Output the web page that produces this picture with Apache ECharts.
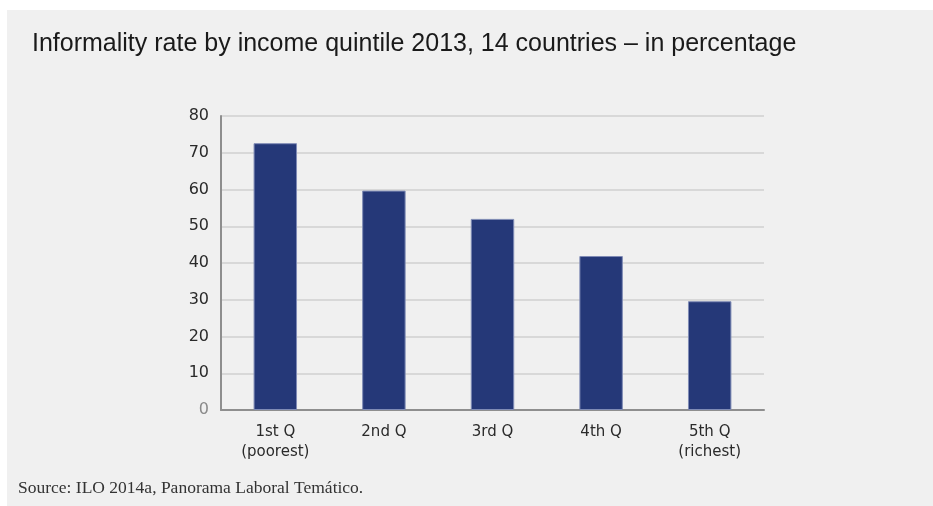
<!DOCTYPE html>
<html>
<head>
<meta charset="utf-8">
<script src="https://cdn.jsdelivr.net/npm/echarts@6/dist/echarts.min.js"></script>
<style>
  html, body { margin: 0; padding: 0; background: #ffffff; }
  #chart { width: 933px; height: 506px; }
</style>
</head>
<body>
<div id="chart"></div>
<script>
// Informality rate by income quintile, 2013 (14 countries)
const quintiles = ['1st Q\n(poorest)', '2nd Q', '3rd Q', '4th Q', '5th Q\n(richest)'];
const informalityRate = [72.6, 59.7, 52.0, 41.9, 29.6];
const yTicks = { min: 0, max: 80, interval: 10 };

const titleText = 'Informality rate by income quintile 2013, 14 countries \u2013 in percentage';
const sourceText = 'Source: ILO 2014a, Panorama Laboral Tem\u00e1tico.';

const chart = echarts.init(document.getElementById('chart'), null, { renderer: 'canvas' });

chart.setOption({
  backgroundColor: '#ffffff',
  animation: false,
  graphic: [
    {
      type: 'rect',
      z: -10,
      shape: { x: 7, y: 10, width: 926, height: 496 },
      style: { fill: '#f0f0f0' }
    },
    {
      type: 'text',
      left: 32,
      top: 32,
      style: {
        text: titleText,
        font: '25px "Liberation Sans", sans-serif',
        fill: '#1a1a1a'
      }
    },
    {
      type: 'text',
      left: 18,
      top: 479,
      style: {
        text: sourceText,
        font: '17.5px "Liberation Serif", serif',
        fill: '#333333'
      }
    }
  ],
  grid: { left: 221, right: 169, top: 116, bottom: 96, containLabel: false },
  xAxis: {
    type: 'category',
    data: quintiles,
    axisLine: { show: true, lineStyle: { color: '#8e8e8e', width: 2 } },
    axisTick: { show: false },
    axisLabel: {
      margin: 12,
      color: '#2a2a2a',
      fontSize: 15,
      lineHeight: 20,
      fontFamily: '"DejaVu Sans", sans-serif'
    }
  },
  yAxis: {
    type: 'value',
    min: yTicks.min,
    max: yTicks.max,
    interval: yTicks.interval,
    axisLine: { show: true, lineStyle: { color: '#8e8e8e', width: 2 } },
    axisTick: { show: false },
    splitLine: { show: true, lineStyle: { color: '#d8d8d8', width: 2 } },
    axisLabel: {
      margin: 12,
      fontSize: 16,
      fontFamily: '"DejaVu Sans", sans-serif',
      formatter: v => (v === 0 ? '{zero|0}' : String(v)),
      color: '#2a2a2a',
      rich: { zero: { color: '#8a8a8a', fontSize: 16, fontFamily: '"DejaVu Sans", sans-serif' } }
    }
  },
  series: [
    {
      type: 'bar',
      data: informalityRate,
      barWidth: '40%',
      itemStyle: { color: '#253878', borderColor: '#7f8bb5', borderWidth: 1 }
    }
  ]
});
</script>
</body>
</html>
